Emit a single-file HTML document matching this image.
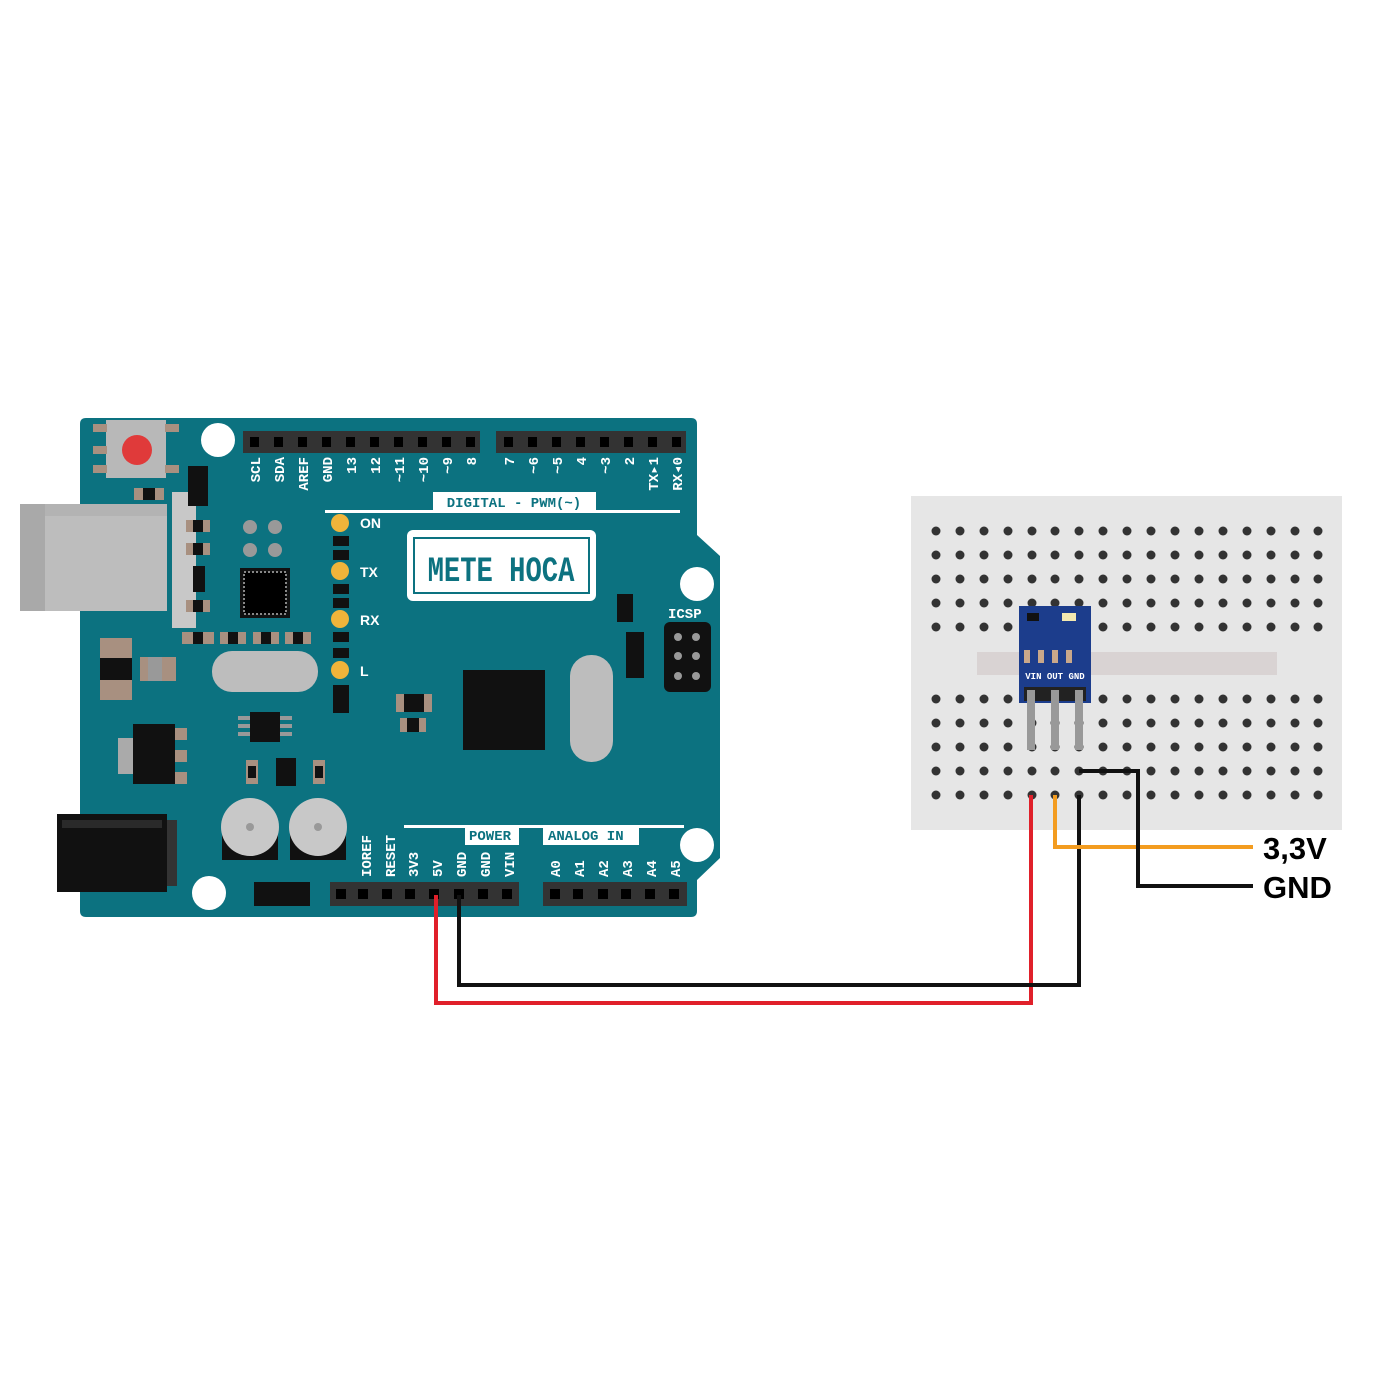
<!DOCTYPE html>
<html><head><style>
html,body{margin:0;padding:0;background:#fff;}
svg{display:block}
.lbl{font-family:"Liberation Mono",monospace;font-weight:bold;font-size:14px;fill:#fff}
</style></head><body>
<svg width="1400" height="1400" viewBox="0 0 1400 1400" xmlns="http://www.w3.org/2000/svg">
<defs>
<g id="row">
<circle cx="936" cy="0" r="4.5"/><circle cx="960" cy="0" r="4.5"/><circle cx="984" cy="0" r="4.5"/><circle cx="1008" cy="0" r="4.5"/><circle cx="1032" cy="0" r="4.5"/><circle cx="1055" cy="0" r="4.5"/><circle cx="1079" cy="0" r="4.5"/><circle cx="1103" cy="0" r="4.5"/><circle cx="1127" cy="0" r="4.5"/><circle cx="1151" cy="0" r="4.5"/><circle cx="1175" cy="0" r="4.5"/><circle cx="1199" cy="0" r="4.5"/><circle cx="1223" cy="0" r="4.5"/><circle cx="1247" cy="0" r="4.5"/><circle cx="1271" cy="0" r="4.5"/><circle cx="1295" cy="0" r="4.5"/><circle cx="1318" cy="0" r="4.5"/>
</g>
</defs>
<!-- Arduino board -->
<path d="M86 418 H691 Q697 418 697 424 V535 L720 556 V858 L697 880 V911 Q697 917 691 917 H86 Q80 917 80 911 V424 Q80 418 86 418Z" fill="#0c7280"/>
<!-- USB -->
<rect x="172" y="492" width="24" height="136" fill="#c8c8c8"/>
<rect x="20" y="504" width="147" height="107" fill="#bdbdbd"/>
<rect x="20" y="504" width="25" height="107" fill="#a9a9a9"/>
<rect x="45" y="504" width="122" height="12" fill="#b3b3b3"/>
<!-- power jack -->
<rect x="57" y="814" width="110" height="78" fill="#111"/>
<rect x="167" y="820" width="10" height="66" fill="#333"/>
<rect x="62" y="820" width="100" height="8" fill="#2a2a2a"/>
<!-- reset button -->
<rect x="106" y="420" width="60" height="58" fill="#b8b8b8"/>
<rect x="93" y="424" width="14" height="8" fill="#a89080"/><rect x="165" y="424" width="14" height="8" fill="#a89080"/>
<rect x="93" y="465" width="14" height="8" fill="#a89080"/><rect x="165" y="465" width="14" height="8" fill="#a89080"/>
<rect x="93" y="446" width="14" height="8" fill="#a89080"/>
<circle cx="137" cy="450" r="15" fill="#e03a3a"/>
<!-- mounting holes -->
<circle cx="218" cy="440" r="17" fill="#fff"/>
<circle cx="697" cy="584" r="17" fill="#fff"/>
<circle cx="697" cy="845" r="17" fill="#fff"/>
<circle cx="209" cy="893" r="17" fill="#fff"/>
<!-- small components -->
<rect x="188" y="466" width="20" height="40" fill="#111"/>
<rect x="134" y="488" width="30" height="12" fill="#a89080"/><rect x="143" y="488" width="12" height="12" fill="#111"/>
<g fill="#a89080">
<rect x="186" y="520" width="24" height="12"/><rect x="186" y="543" width="24" height="12"/><rect x="186" y="600" width="24" height="12"/>
<rect x="182" y="632" width="32" height="12"/><rect x="220" y="632" width="26" height="12"/><rect x="253" y="632" width="26" height="12"/><rect x="285" y="632" width="26" height="12"/>
</g>
<g fill="#111">
<rect x="193" y="520" width="10" height="12"/><rect x="193" y="543" width="10" height="12"/><rect x="193" y="600" width="10" height="12"/>
<rect x="193" y="566" width="12" height="26"/>
<rect x="193" y="632" width="10" height="12"/><rect x="228" y="632" width="10" height="12"/><rect x="261" y="632" width="10" height="12"/><rect x="293" y="632" width="10" height="12"/>
</g>
<g fill="#999"><circle cx="250" cy="527" r="7"/><circle cx="275" cy="527" r="7"/><circle cx="250" cy="550" r="7"/><circle cx="275" cy="550" r="7"/></g>
<rect x="240" y="568" width="50" height="50" fill="#111"/>
<rect x="244" y="572" width="42" height="42" fill="#000" stroke="#888" stroke-width="2" stroke-dasharray="2 2"/>
<!-- left components -->
<rect x="100" y="638" width="32" height="62" fill="#a89080"/>
<rect x="100" y="658" width="32" height="22" fill="#111"/>
<rect x="140" y="657" width="36" height="24" fill="#a89080"/><rect x="148" y="657" width="14" height="24" fill="#999"/>
<rect x="118" y="738" width="16" height="36" fill="#aaa"/>
<rect x="133" y="724" width="42" height="60" fill="#111"/>
<rect x="175" y="728" width="12" height="12" fill="#a89080"/><rect x="175" y="750" width="12" height="12" fill="#a89080"/><rect x="175" y="772" width="12" height="12" fill="#a89080"/>
<!-- crystal -->
<rect x="212" y="651" width="106" height="41" rx="20" fill="#bdbdbd"/>
<rect x="570" y="655" width="43" height="107" rx="21" fill="#bdbdbd"/>
<!-- small IC -->
<rect x="250" y="712" width="30" height="30" fill="#111"/>
<g fill="#999"><rect x="238" y="716" width="12" height="4"/><rect x="238" y="724" width="12" height="4"/><rect x="238" y="732" width="12" height="4"/><rect x="280" y="716" width="12" height="4"/><rect x="280" y="724" width="12" height="4"/><rect x="280" y="732" width="12" height="4"/></g>
<rect x="246" y="760" width="12" height="24" fill="#a89080"/><rect x="248" y="766" width="8" height="12" fill="#111"/>
<rect x="313" y="760" width="12" height="24" fill="#a89080"/><rect x="315" y="766" width="8" height="12" fill="#111"/>
<rect x="276" y="758" width="20" height="28" fill="#111"/>
<!-- capacitors -->
<rect x="222" y="825" width="56" height="35" fill="#111"/>
<rect x="290" y="825" width="56" height="35" fill="#111"/>
<circle cx="250" cy="827" r="29" fill="#c8c8c8"/><circle cx="250" cy="827" r="4" fill="#999"/>
<circle cx="318" cy="827" r="29" fill="#c8c8c8"/><circle cx="318" cy="827" r="4" fill="#999"/>
<rect x="254" y="882" width="56" height="24" fill="#111"/>
<!-- LEDs column -->
<g fill="#111">
<rect x="333" y="536" width="16" height="10"/><rect x="333" y="550" width="16" height="10"/>
<rect x="333" y="584" width="16" height="10"/><rect x="333" y="598" width="16" height="10"/>
<rect x="333" y="632" width="16" height="10"/><rect x="333" y="648" width="16" height="10"/>
<rect x="333" y="685" width="16" height="28"/>
</g>
<g fill="#f0b43a"><circle cx="340" cy="523" r="9"/><circle cx="340" cy="571" r="9"/><circle cx="340" cy="619" r="9"/><circle cx="340" cy="670" r="9"/></g>
<g font-family="Liberation Sans, sans-serif" font-weight="bold" font-size="14" fill="#fff">
<text x="360" y="528">ON</text><text x="360" y="577">TX</text><text x="360" y="625">RX</text><text x="360" y="676">L</text></g>
<!-- logo -->
<rect x="407" y="530" width="189" height="71" rx="6" fill="#fff"/>
<rect x="414" y="538" width="175" height="55" fill="none" stroke="#0c7280" stroke-width="2"/>
<text x="501" y="580" text-anchor="middle" font-family="Liberation Mono, monospace" font-weight="bold" font-size="32" fill="#0c7280" transform="translate(501 0) scale(0.85 1.1) translate(-501 -52)">METE HOCA</text>
<!-- right components -->
<rect x="617" y="594" width="16" height="28" fill="#111"/>
<rect x="626" y="632" width="18" height="46" fill="#111"/>
<rect x="664" y="622" width="47" height="70" rx="6" fill="#111"/>
<g fill="#999"><circle cx="678" cy="637" r="4"/><circle cx="696" cy="637" r="4"/><circle cx="678" cy="656" r="4"/><circle cx="696" cy="656" r="4"/><circle cx="678" cy="676" r="4"/><circle cx="696" cy="676" r="4"/></g>
<text x="668" y="618" font-family="Liberation Mono, monospace" font-weight="bold" font-size="14" fill="#fff">ICSP</text>
<!-- main chip -->
<rect x="463" y="670" width="82" height="80" fill="#111"/>
<rect x="396" y="694" width="36" height="18" fill="#a89080"/><rect x="404" y="694" width="20" height="18" fill="#111"/>
<rect x="400" y="718" width="26" height="14" fill="#a89080"/><rect x="407" y="718" width="12" height="14" fill="#111"/>
<!-- headers top -->
<rect x="243" y="431" width="237" height="22" fill="#333"/>
<rect x="496" y="431" width="190" height="22" fill="#333"/>
<g fill="#000">
<rect x="250" y="437" width="9" height="10"/><rect x="274" y="437" width="9" height="10"/><rect x="298" y="437" width="9" height="10"/><rect x="322" y="437" width="9" height="10"/><rect x="346" y="437" width="9" height="10"/><rect x="370" y="437" width="9" height="10"/><rect x="394" y="437" width="9" height="10"/><rect x="418" y="437" width="9" height="10"/><rect x="442" y="437" width="9" height="10"/><rect x="466" y="437" width="9" height="10"/>
<rect x="504" y="437" width="9" height="10"/><rect x="528" y="437" width="9" height="10"/><rect x="552" y="437" width="9" height="10"/><rect x="576" y="437" width="9" height="10"/><rect x="600" y="437" width="9" height="10"/><rect x="624" y="437" width="9" height="10"/><rect x="648" y="437" width="9" height="10"/><rect x="672" y="437" width="9" height="10"/>
</g>
<g class="lbl" text-anchor="end">
<text transform="translate(260 457) rotate(-90)">SCL</text>
<text transform="translate(284 457) rotate(-90)">SDA</text>
<text transform="translate(308 457) rotate(-90)">AREF</text>
<text transform="translate(332 457) rotate(-90)">GND</text>
<text transform="translate(356 457) rotate(-90)">13</text>
<text transform="translate(380 457) rotate(-90)">12</text>
<text transform="translate(404 457) rotate(-90)">~11</text>
<text transform="translate(428 457) rotate(-90)">~10</text>
<text transform="translate(452 457) rotate(-90)">~9</text>
<text transform="translate(476 457) rotate(-90)">8</text>
<text transform="translate(514 457) rotate(-90)">7</text>
<text transform="translate(538 457) rotate(-90)">~6</text>
<text transform="translate(562 457) rotate(-90)">~5</text>
<text transform="translate(586 457) rotate(-90)">4</text>
<text transform="translate(610 457) rotate(-90)">~3</text>
<text transform="translate(634 457) rotate(-90)">2</text>
<text transform="translate(658 457) rotate(-90)">TX▸1</text>
<text transform="translate(682 457) rotate(-90)">RX◂0</text>
</g>
<rect x="325" y="510" width="355" height="3" fill="#fff"/>
<rect x="433" y="492" width="163" height="20" fill="#fff"/>
<text x="514" y="507" text-anchor="middle" font-family="Liberation Mono, monospace" font-weight="bold" font-size="14" fill="#0c7280">DIGITAL - PWM(~)</text>
<!-- bottom headers -->
<rect x="404" y="825" width="280" height="3" fill="#fff"/>
<rect x="465" y="826" width="54" height="19" fill="#fff"/>
<rect x="543" y="826" width="96" height="19" fill="#fff"/>
<g font-family="Liberation Mono, monospace" font-weight="bold" font-size="14" fill="#0c7280">
<text x="469" y="840">POWER</text><text x="548" y="840">ANALOG IN</text></g>
<rect x="330" y="882" width="189" height="24" fill="#333"/>
<rect x="543" y="882" width="144" height="24" fill="#333"/>
<g fill="#000">
<rect x="336" y="889" width="10" height="10"/><rect x="358" y="889" width="10" height="10"/><rect x="382" y="889" width="10" height="10"/><rect x="405" y="889" width="10" height="10"/><rect x="429" y="889" width="10" height="10"/><rect x="454" y="889" width="10" height="10"/><rect x="478" y="889" width="10" height="10"/><rect x="502" y="889" width="10" height="10"/>
<rect x="550" y="889" width="10" height="10"/><rect x="573" y="889" width="10" height="10"/><rect x="598" y="889" width="10" height="10"/><rect x="621" y="889" width="10" height="10"/><rect x="645" y="889" width="10" height="10"/><rect x="669" y="889" width="10" height="10"/>
</g>
<g class="lbl">
<text transform="translate(371 877) rotate(-90)">IOREF</text>
<text transform="translate(395 877) rotate(-90)">RESET</text>
<text transform="translate(418 877) rotate(-90)">3V3</text>
<text transform="translate(442 877) rotate(-90)">5V</text>
<text transform="translate(466 877) rotate(-90)">GND</text>
<text transform="translate(490 877) rotate(-90)">GND</text>
<text transform="translate(514 877) rotate(-90)">VIN</text>
<text transform="translate(560 877) rotate(-90)">A0</text>
<text transform="translate(584 877) rotate(-90)">A1</text>
<text transform="translate(608 877) rotate(-90)">A2</text>
<text transform="translate(632 877) rotate(-90)">A3</text>
<text transform="translate(656 877) rotate(-90)">A4</text>
<text transform="translate(680 877) rotate(-90)">A5</text>
</g>
<!-- breadboard -->
<rect x="911" y="496" width="431" height="334" fill="#e6e6e6"/>
<rect x="977" y="652" width="300" height="23" fill="#d9d3d3"/>
<g fill="#333">
<use href="#row" y="531"/><use href="#row" y="555"/><use href="#row" y="579"/><use href="#row" y="603"/><use href="#row" y="627"/>
<use href="#row" y="699"/><use href="#row" y="723"/><use href="#row" y="747"/><use href="#row" y="771"/><use href="#row" y="795"/>
</g>
<!-- sensor -->
<rect x="1019" y="606" width="72" height="97" fill="#1c3d8c"/>
<rect x="1027" y="613" width="12" height="8" fill="#111"/>
<rect x="1062" y="613" width="14" height="8" fill="#f3e9b0"/>
<g fill="#c9a88a"><rect x="1024" y="650" width="6" height="13"/><rect x="1038" y="650" width="6" height="13"/><rect x="1052" y="650" width="6" height="13"/><rect x="1066" y="650" width="6" height="13"/></g>
<text x="1055" y="679" text-anchor="middle" font-family="Liberation Mono, monospace" font-weight="bold" font-size="9" fill="#fff">VIN OUT GND</text>
<rect x="1024" y="687" width="62" height="14" fill="#222"/>
<g fill="#999"><rect x="1027" y="690" width="8" height="60"/><rect x="1051" y="690" width="8" height="60"/><rect x="1075" y="690" width="8" height="60"/></g>
<!-- wires -->
<g fill="none" stroke-width="4" stroke-linejoin="miter">
<polyline points="436,895 436,1003 1031,1003 1031,795" stroke="#e0202a"/>
<polyline points="459,895 459,985 1079,985 1079,795" stroke="#111"/>
<polyline points="1055,795 1055,847 1253,847" stroke="#f39c20"/>
<polyline points="1079,771 1138,771 1138,886 1253,886" stroke="#111"/>
</g>
<g font-family="Liberation Sans, sans-serif" font-weight="bold" font-size="31" fill="#000">
<text x="1263" y="859">3,3V</text><text x="1263" y="898">GND</text></g>
</svg>
</body></html>
